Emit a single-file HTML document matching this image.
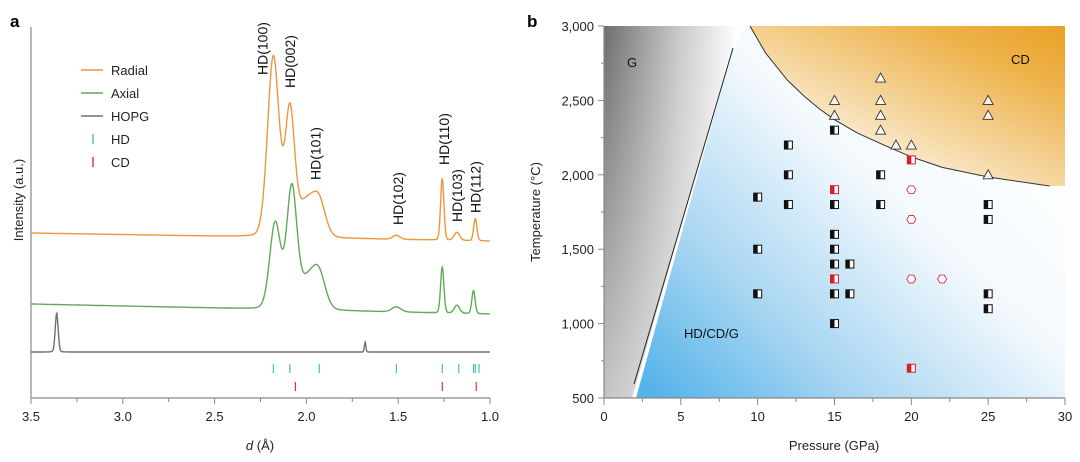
<!DOCTYPE html>
<html><head><meta charset="utf-8">
<style>
html,body{margin:0;padding:0;background:#fff;}
svg{display:block;font-family:"Liberation Sans",Arial,sans-serif;}
</style></head>
<body>
<svg id="chart" width="1080" height="462" viewBox="0 0 1080 462">
<defs>
<linearGradient id="gGrey" x1="0" y1="0" x2="1" y2="0">
<stop offset="0" stop-color="#6e6e6e"/><stop offset="0.55" stop-color="#c8c8c8"/><stop offset="1" stop-color="#fff"/>
</linearGradient>
<linearGradient id="gGrey2" x1="0" y1="0" x2="0" y2="1">
<stop offset="0" stop-color="#fff" stop-opacity="0"/><stop offset="1" stop-color="#fff" stop-opacity="0.6"/>
</linearGradient>
<linearGradient id="gBlue" x1="0.9" y1="0.2" x2="0.05" y2="1">
<stop offset="0" stop-color="#fff"/><stop offset="0.35" stop-color="#f3f9fd"/><stop offset="0.7" stop-color="#a9d6f2"/><stop offset="1" stop-color="#55b3ea"/>
</linearGradient>
<linearGradient id="gOrange" x1="0.2" y1="0.9" x2="1" y2="0">
<stop offset="0" stop-color="#fff"/><stop offset="0.35" stop-color="#f6d9a6"/><stop offset="0.75" stop-color="#eeb24a"/><stop offset="1" stop-color="#e9a125"/>
</linearGradient>
</defs>
<g id="panelA"></g>
<g id="panelB"></g>
</svg>
<script>
// ===== Panel a data =====
const radialPeaks = [[2.18,180,0.032],[2.09,122,0.026],[2.0,35,0.05],[1.93,30,0.035],[1.51,4,0.02],[1.26,62,0.009],[1.18,8,0.015],[1.08,22,0.009]];
const axialPeaks = [[2.17,86,0.03],[2.08,118,0.028],[1.99,30,0.05],[1.93,28,0.035],[1.51,5,0.025],[1.26,46,0.009],[1.18,8,0.015],[1.09,23,0.009]];
const hopgPeaks = [[3.36,39,0.008],[1.68,10,0.004]];
const radialBase = [233,241];
const axialBase = [304,314];
const hopgBase = [352,352];
const hdTicks = [2.18,2.09,1.93,1.51,1.26,1.17,1.09,1.08,1.06];
const cdTicks = [2.06,1.26,1.075];
const aXTicks = [3.5,3.0,2.5,2.0,1.5,1.0];
const peakLabels = ["HD(100)","HD(002)","HD(101)","HD(102)","HD(110)","HD(103)","HD(112)"];
const peakLabelD = [2.24,2.09,1.95,1.50,1.25,1.18,1.08];
const peakLabelY = [75,88,180,225,165,222,213];

// ===== Panel b data =====
const sqP = [10,10,10,12,12,12,15,15,15,15,15,15,15,15,15,16,16,18,18,20,20,25,25,25,25];
const sqT = [1850,1500,1200,2200,2000,1800,2300,1900,1800,1600,1500,1400,1300,1200,1000,1400,1200,2000,1800,2100,700,1800,1700,1200,1100];
const sqRed = [0,0,0,0,0,0,0,1,0,0,0,0,1,0,0,0,0,0,0,1,1,0,0,0,0];
const triP = [15,15,18,18,18,18,19,20,25,25,25];
const triT = [2500,2400,2650,2500,2400,2300,2200,2200,2500,2400,2000];
const hexP = [20,20,20,22];
const hexT = [1900,1700,1300,1300];
const bXTicks = [0,5,10,15,20,25,30];
const bYTicks = [500,1000,1500,2000,2500,3000];
const cdCurveP = [9.5,10.5,11.9,13,14,15,16.5,18,20,22,25,29];
const cdCurveT = [3000,2820,2640,2530,2445,2370,2280,2210,2120,2050,1985,1925];

const NS="http://www.w3.org/2000/svg";
function mk(parent,tag,attrs,text){const e=document.createElementNS(NS,tag);for(const k in attrs)e.setAttribute(k,attrs[k]);if(text!==undefined)e.textContent=text;parent.appendChild(e);return e;}

// ---- Panel a ----
const A=document.getElementById('panelA');
const ax=d=>31+(3.5-d)/2.5*459;
function spec(peaks,base){let pts=[];for(let d=3.5;d>=0.999;d-=0.003){let I=0;for(const p of peaks){const u=(d-p[0])/p[2];I+=p[1]*(0.88*Math.exp(-u*u/2)+0.12/(1+u*u));}const b=base[0]+(base[1]-base[0])*(3.5-d)/2.5;pts.push(ax(d).toFixed(1)+','+(b-I).toFixed(1));}return pts.join(' ');}
let t=mk(A,'text',{x:10,y:27,'font-size':17,'font-weight':'bold'},'a');

let l=mk(A,'line',{x1:31,y1:27,x2:31,y2:398,stroke:'#888','stroke-width':1.2});

l=mk(A,'line',{x1:31,y1:398,x2:490,y2:398,stroke:'#888','stroke-width':1.2});

for(let v=3.5;v>=0.99;v-=0.25){const tk=mk(A,'line',{x1:ax(v),y1:398,x2:ax(v),y2:Math.abs(v*2-Math.round(v*2))<0.01?404:402,stroke:'#888'});}
aXTicks.forEach(v=>{const e=mk(A,'text',{x:ax(v),y:421,'text-anchor':'middle','font-size':13,fill:'#222'},v.toFixed(1));});
t=mk(A,'text',{x:260,y:450,'text-anchor':'middle','font-size':13,fill:'#222'});

mk(t,'tspan',{'font-style':'italic'},'d');mk(t,'tspan',{},' (Å)');
t=mk(A,'text',{x:0,y:0,transform:'translate(23,200) rotate(-90)','text-anchor':'middle','font-size':13,fill:'#222'},'Intensity (a.u.)');

let s=mk(A,'polyline',{points:spec(radialPeaks,radialBase),fill:'none',stroke:'#f0963a','stroke-width':1.4});

s=mk(A,'polyline',{points:spec(axialPeaks,axialBase),fill:'none',stroke:'#5fab55','stroke-width':1.4});

s=mk(A,'polyline',{points:spec(hopgPeaks,hopgBase),fill:'none',stroke:'#707070','stroke-width':1.4});

hdTicks.forEach(d=>{const e=mk(A,'line',{x1:ax(d),y1:364,x2:ax(d),y2:373,stroke:'#45c2b1','stroke-width':1.2});});
cdTicks.forEach(d=>{const e=mk(A,'line',{x1:ax(d),y1:382,x2:ax(d),y2:391,stroke:'#e0303a','stroke-width':1.2});});
peakLabels.forEach((lb,i)=>{const x=ax(peakLabelD[i])+5,y=peakLabelY[i];const e=mk(A,'text',{x:0,y:0,transform:`translate(${x},${y}) rotate(-90)`,'font-size':14,fill:'#111'},lb);});
const legItems=[['Radial','#f0963a','line'],['Axial','#5fab55','line'],['HOPG','#707070','line'],['HD','#45c2b1','tick'],['CD','#e0303a','tick']];
legItems.forEach((it,i)=>{const y=70+i*23;const g=mk(A,'g',{});
if(it[2]==='line')mk(g,'line',{x1:81,y1:y,x2:103,y2:y,stroke:it[1],'stroke-width':1.6});else mk(g,'line',{x1:93,y1:y-5,x2:93,y2:y+5,stroke:it[1],'stroke-width':1.4});
mk(g,'text',{x:111,y:y+5,'font-size':13,fill:'#222'},it[0]);});

// ---- Panel b ----
const B=document.getElementById('panelB');
const bx=p=>604+p/30*461;
const by=T=>398-(T-500)/2500*372;
t=mk(B,'text',{x:527,y:27,'font-size':17,'font-weight':'bold'},'b');

let r=mk(B,'polygon',{points:`604,26 738,26 632,398 604,398`,fill:'url(#gGrey)'});

mk(B,'polygon',{points:`604,26 738,26 632,398 604,398`,fill:'url(#gGrey2)'});
let cpts=cdCurveP.map((p,i)=>bx(p).toFixed(1)+','+by(cdCurveT[i]).toFixed(1));
const endY=by(cdCurveT[cdCurveT.length-1]);
r=mk(B,'polygon',{points:`733,48 745,26 `+cpts.join(' ')+` 1065,${endY} 1065,398 636,398`,fill:'url(#gBlue)'});

r=mk(B,'polygon',{points:`1065,26 1065,${endY} `+cpts.slice().reverse().join(' '),fill:'url(#gOrange)'});

l=mk(B,'line',{x1:733,y1:48,x2:634,y2:384,stroke:'#222','stroke-width':1});

l=mk(B,'polyline',{points:cpts.join(' '),fill:'none',stroke:'#333','stroke-width':1,'stroke-linejoin':'round'});

t=mk(B,'text',{x:627,y:67,'font-size':13,fill:'#111'},'G');
t=mk(B,'text',{x:1011,y:64,'font-size':13,fill:'#111'},'CD');
t=mk(B,'text',{x:684,y:338,'font-size':13,fill:'#111'},'HD/CD/G');
l=mk(B,'line',{x1:604,y1:26,x2:604,y2:398,stroke:'#888','stroke-width':1.2});
l=mk(B,'line',{x1:604,y1:398,x2:1065,y2:398,stroke:'#888','stroke-width':1.2});
for(let p=0;p<=30;p+=2.5){const e=mk(B,'line',{x1:bx(p),y1:398,x2:bx(p),y2:p%5===0?405:402,stroke:'#888'});}
for(let T=500;T<=3000;T+=250){const e=mk(B,'line',{x1:T%500===0?598:601,y1:by(T),x2:604,y2:by(T),stroke:'#888'});}
bXTicks.forEach(v=>{const e=mk(B,'text',{x:bx(v),y:421,'text-anchor':'middle','font-size':13,fill:'#222'},String(v));});
bYTicks.forEach(v=>{const e=mk(B,'text',{x:594,y:by(v)+5,'text-anchor':'end','font-size':13,fill:'#222'},v.toLocaleString('en-US'));});
t=mk(B,'text',{x:834,y:450,'text-anchor':'middle','font-size':13,fill:'#222'},'Pressure (GPa)');
t=mk(B,'text',{x:0,y:0,transform:'translate(540,212) rotate(-90)','text-anchor':'middle','font-size':13,fill:'#222'},'Temperature (°C)');
sqP.forEach((p,i)=>{const x=bx(p),y=by(sqT[i]);const g=mk(B,'g',{});


const c=sqRed[i]?'#d62028':'#111';
mk(g,'rect',{x:x-4,y:y-4,width:8,height:8,fill:'#fff',stroke:c,'stroke-width':1});
mk(g,'rect',{x:x-4,y:y-4,width:4,height:8,fill:c});});
triP.forEach((p,i)=>{const x=bx(p),y=by(triT[i]);const e=mk(B,'polygon',{points:`${x},${y-5} ${x-5},${y+4} ${x+5},${y+4}`,fill:'#fff','fill-opacity':0.85,stroke:'#333','stroke-width':0.9});

});
hexP.forEach((p,i)=>{const x=bx(p),y=by(hexT[i]);let pts=[];for(let k=0;k<6;k++){const a=Math.PI/3*k;pts.push((x+4.5*Math.cos(a)).toFixed(1)+','+(y+4.5*Math.sin(a)).toFixed(1));}
const e=mk(B,'polygon',{points:pts.join(' '),fill:'#fff',stroke:'#e0303a','stroke-width':0.9});

});
</script>
</body></html>
